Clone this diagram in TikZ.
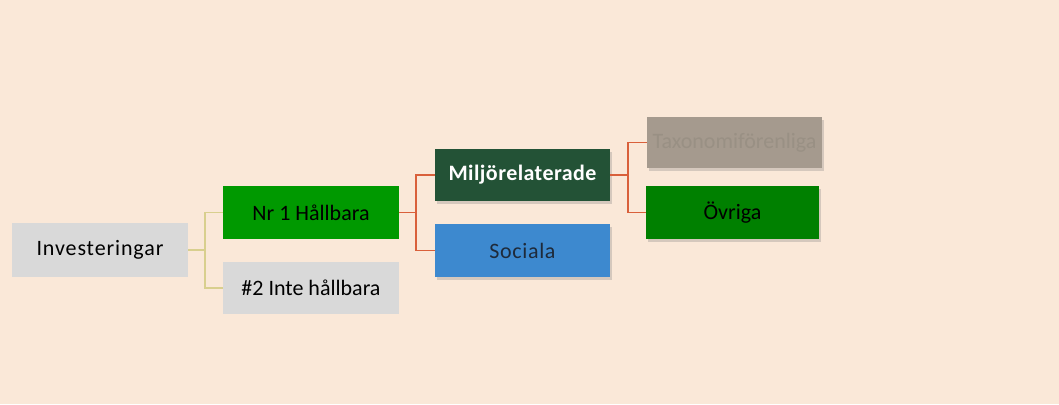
\documentclass[tikz,border=0pt]{standalone}
\usepackage{fontspec}
\setmainfont{Carlito}
\usetikzlibrary{shadows}
\definecolor{bg}{HTML}{FAE8D8}
\definecolor{greybox}{HTML}{D9D9D9}
\definecolor{green1}{HTML}{009900}
\definecolor{darkgreen}{HTML}{235236}
\definecolor{socblue}{HTML}{3D89CF}
\definecolor{taxgrey}{HTML}{A59A8E}
\definecolor{taxtext}{HTML}{999084}
\definecolor{ovgreen}{HTML}{008000}
\definecolor{yline}{HTML}{D8CF8E}
\definecolor{rline}{HTML}{D9603B}
\definecolor{navytext}{HTML}{1E2A3A}
\tikzset{
  x=1pt, y=-1pt,
  box/.style={draw=none, inner sep=0pt, font=\fontsize{22}{26}\selectfont, text=black},
  shadowed/.style={drop shadow={opacity=0.3, shadow xshift=1.5pt, shadow yshift=-2.5pt}},
  yconn/.style={draw=yline, line width=1.8pt},
  rconn/.style={draw=rline, line width=1.8pt},
}
\begin{document}
\begin{tikzpicture}
\fill[bg] (0,0) rectangle (1059,404);
\useasboundingbox (0,0) rectangle (1059,404);
% boxes
\node[box, fill=greybox, minimum width=176pt, minimum height=54pt] (inv) at (100,250) {\addfontfeatures{LetterSpace=4}Investeringar};
\node[box, fill=green1, minimum width=176pt, minimum height=53pt] (nr1) at (311,212.5) {Nr 1 Hållbara\hspace{6pt}};
\node[box, fill=greybox, minimum width=176pt, minimum height=52pt] (nr2) at (311,288) {\#2 Inte hållbara\hspace{10pt}};
\node[box, shadowed, fill=darkgreen, text=white, minimum width=175pt, minimum height=52pt] (milj) at (522.5,175) {\bfseries\addfontfeatures{LetterSpace=2}Miljörelaterade};
\node[box, shadowed, fill=socblue, text=navytext, minimum width=175pt, minimum height=53pt] (soc) at (522.5,250.5) {\addfontfeatures{LetterSpace=3}Sociala};
\node[box, shadowed, fill=taxgrey, text=taxtext, minimum width=175pt, minimum height=51pt] (tax) at (734.5,142.5) {Taxonomiförenliga};
\node[box, shadowed, fill=ovgreen, minimum width=173pt, minimum height=53pt] (ovr) at (732.5,212.5) {Övriga};
% connectors
\coordinate (j1) at (205,250);
\draw[yconn] (inv.east) -- (j1);
\draw[yconn] (j1) |- (nr1.west);
\draw[yconn] (j1) |- (nr2.west);
\coordinate (j2) at (416,212.5);
\draw[rconn] (nr1.east) -- (j2);
\draw[rconn] (j2) |- (milj.west);
\draw[rconn] (j2) |- (soc.west);
\coordinate (j3) at (628,175);
\draw[rconn] (milj.east) -- (j3);
\draw[rconn] (j3) |- (tax.west);
\draw[rconn] (j3) |- (ovr.west);
\end{tikzpicture}
\end{document}
